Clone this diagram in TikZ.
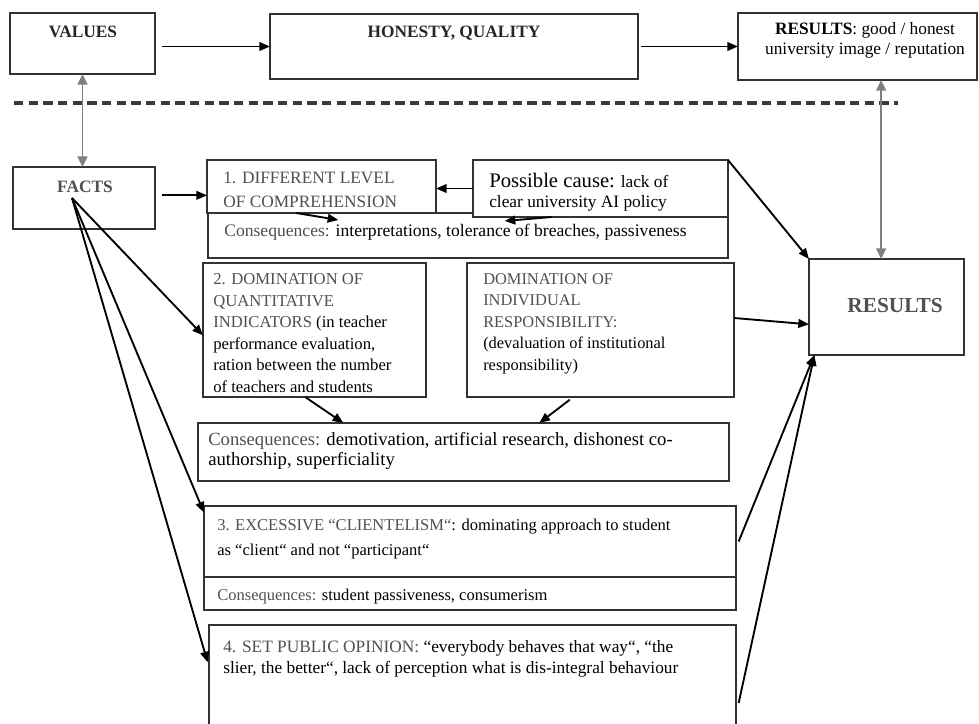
\documentclass[tikz,border=0pt]{standalone}
\usepackage{fontspec}
\setmainfont{Liberation Serif}
\usetikzlibrary{arrows.meta,fit}
\definecolor{lbl}{HTML}{505050}
\definecolor{edge}{HTML}{333333}
\definecolor{divider}{HTML}{3A3A3A}
\newcommand{\consq}{\textcolor{lbl}{Consequences:}}
\tikzset{
	>={Triangle[length=8pt,width=6.5pt]},
	boxframe/.style={draw=edge, line width=1pt, fill=white, inner sep=0pt, outer sep=0pt},
	bodytext/.style={anchor=base west, align=left, inner sep=0pt, font=\fontsize{13}{16}\selectfont},
	headtext/.style={anchor=base, inner sep=0pt, font=\bfseries\fontsize{13}{16}\selectfont},
	arr/.style={->, line width=1.4pt},
	grayarr/.style={<->, draw=black!50, line width=1.2pt, >={Triangle[length=8pt,width=7.5pt]}},
}
\begin{document}
\begin{tikzpicture}[x=0.75pt,y=-0.75pt]
	\useasboundingbox (0,0) rectangle (979,724);
	% frames
	\node[boxframe, fit={(10,13) (155,74)}] (values) {};
	\node[boxframe, fit={(270,14) (638,79)}] (honesty) {};
	\node[boxframe, fit={(738,13) (977,80)}] (restop) {};
	\node[boxframe, fit={(13,167) (155,229)}] (facts) {};
	\node[boxframe, fit={(208,213) (728,258)}] (cons1) {};
	\node[boxframe, fit={(207,160) (436,213)}] (box1) {};
	\node[boxframe, fit={(473,160) (728,217)}] (cause) {};
	\node[boxframe, fit={(203,263) (426,397)}] (box2) {};
	\node[boxframe, fit={(467,263) (734,397)}] (indiv) {};
	\node[boxframe, fit={(198,423) (729,481)}] (cons2) {};
	\node[boxframe, fit={(204,506) (736,577)}] (box3) {};
	\node[boxframe, fit={(204,577) (736,610)}] (cons3) {};
	\node[boxframe, fit={(209,625) (736,745)}] (box4) {};
	\node[boxframe, fit={(809,259) (964,355)}] (results) {};
	\draw[draw=divider, line width=3pt, dash pattern=on 7pt off 4pt] (14,103) -- (898,103);
	% texts (base = last line)
	\node[headtext, text=black!85] (values-t) at (83,38) {VALUES};
	\node[headtext, text=black!85] (honesty-t) at (454,38) {HONESTY, QUALITY};
	\node[bodytext, anchor=base, align=center, font=\fontsize{13}{15}\selectfont] (restop-t) at (865,55)
		{\textbf{RESULTS}: good / honest\\university image / reputation};
	\node[headtext, text=lbl] (facts-t) at (85,192) {FACTS};
	\node[bodytext, text=lbl, font=\fontsize{13}{17.25}\selectfont] (box1-t) at (223,207)
		{1. DIFFERENT LEVEL\\OF COMPREHENSION};
	\begin{scope}
		\clip (473,160) rectangle (728,211);
		\node[bodytext, font=\fontsize{13}{15}\selectfont] (cause-t) at (489,207)
			{{\fontsize{15.5}{15.5}\selectfont Possible cause:} lack of\\clear university AI policy};
	\end{scope}
	\node[bodytext, font=\fontsize{13.2}{16}\selectfont] (cons1-t) at (224,236) {\consq{} interpretations, tolerance of breaches, passiveness};
	\node[bodytext, font=\fontsize{12.5}{16.1}\selectfont] (box2-t) at (213,392)
		{\textcolor{lbl}{2. DOMINATION OF}\\\textcolor{lbl}{QUANTITATIVE}\\\textcolor{lbl}{INDICATORS} (in teacher\\performance evaluation,\\ration between the number\\of teachers and students};
	\node[bodytext, font=\fontsize{12.3}{16.1}\selectfont] (indiv-t) at (483,370)
		{\textcolor{lbl}{DOMINATION OF}\\\textcolor{lbl}{INDIVIDUAL}\\\textcolor{lbl}{RESPONSIBILITY:}\\(devaluation of institutional\\responsibility)};
	\node[bodytext, font=\fontsize{14}{15}\selectfont] (cons2-t) at (208,465)
		{\consq{} demotivation, artificial research, dishonest co-\\authorship, superficiality};
	\node[bodytext, font=\fontsize{12.4}{18.75}\selectfont] (box3-t) at (217,555)
		{\textcolor{lbl}{3. EXCESSIVE “CLIENTELISM“}: dominating approach to student\\as “client“ and not “participant“};
	\node[bodytext, font=\fontsize{12.4}{16}\selectfont] (cons3-t) at (217,600) {\consq{} student passiveness, consumerism};
	\node[bodytext, font=\fontsize{13}{15.75}\selectfont] (box4-t) at (223,673)
		{\textcolor{lbl}{4. SET PUBLIC OPINION:} “everybody behaves that way“, “the\\slier, the better“, lack of perception what is dis-integral behaviour};
	\node[headtext, text=lbl, font=\bfseries\fontsize{16}{16}\selectfont] (results-t) at (895,312) {RESULTS};
	% connectors
	\draw[arr] ([xshift=5pt]values.east |- honesty.west) -- (honesty.west);
	\draw[arr] ([xshift=2pt]honesty.east) -- (restop.west);
	\draw[grayarr] (values.south) -- (values.south |- facts.north);
	\draw[grayarr] ([xshift=-4pt]results.north |- restop.south) -- ([xshift=-4pt]results.north);
	\draw[arr] ([shift={(5pt,2pt)}]facts.east) -- ([yshift=2pt]facts.east -| box1.west);
	\draw[arr] (cause.west) -- (cause.west -| box1.east);
	\draw[arr] ([xshift=67pt]box1.south west) -- ++(42,7);
	\draw[arr] ([xshift=59pt]cause.south west) -- ++(-47,4);
	\draw[arr] (cause.north east) -- (results.north west);
	\draw[arr] ([xshift=-9pt]facts.center) -- ([yshift=-4pt]box2.west);
	\draw[arr] ([xshift=-9pt]facts.center) -- ([yshift=-5pt]box3.north west);
	\draw[arr] ([xshift=-9pt]facts.center) -- ([shift={(-1pt,-28pt)}]box4.north west);
	\draw[arr] ([xshift=-7pt]box2.south) -- ([xshift=109pt]cons2.north west);
	\draw[arr] ([shift={(-23pt,-2pt)}]indiv.south) -- ([xshift=256pt]cons2.north west);
	\draw[arr] ([yshift=9pt]indiv.east) -- ([yshift=-13pt]results.west);
	\draw[arr] ([xshift=2pt]box3.east) -- ([xshift=4pt]results.south west);
	\draw[arr] ([shift={(2pt,-13.5pt)}]box4.east) -- ([xshift=4pt]results.south west);
\end{tikzpicture}
\end{document}
